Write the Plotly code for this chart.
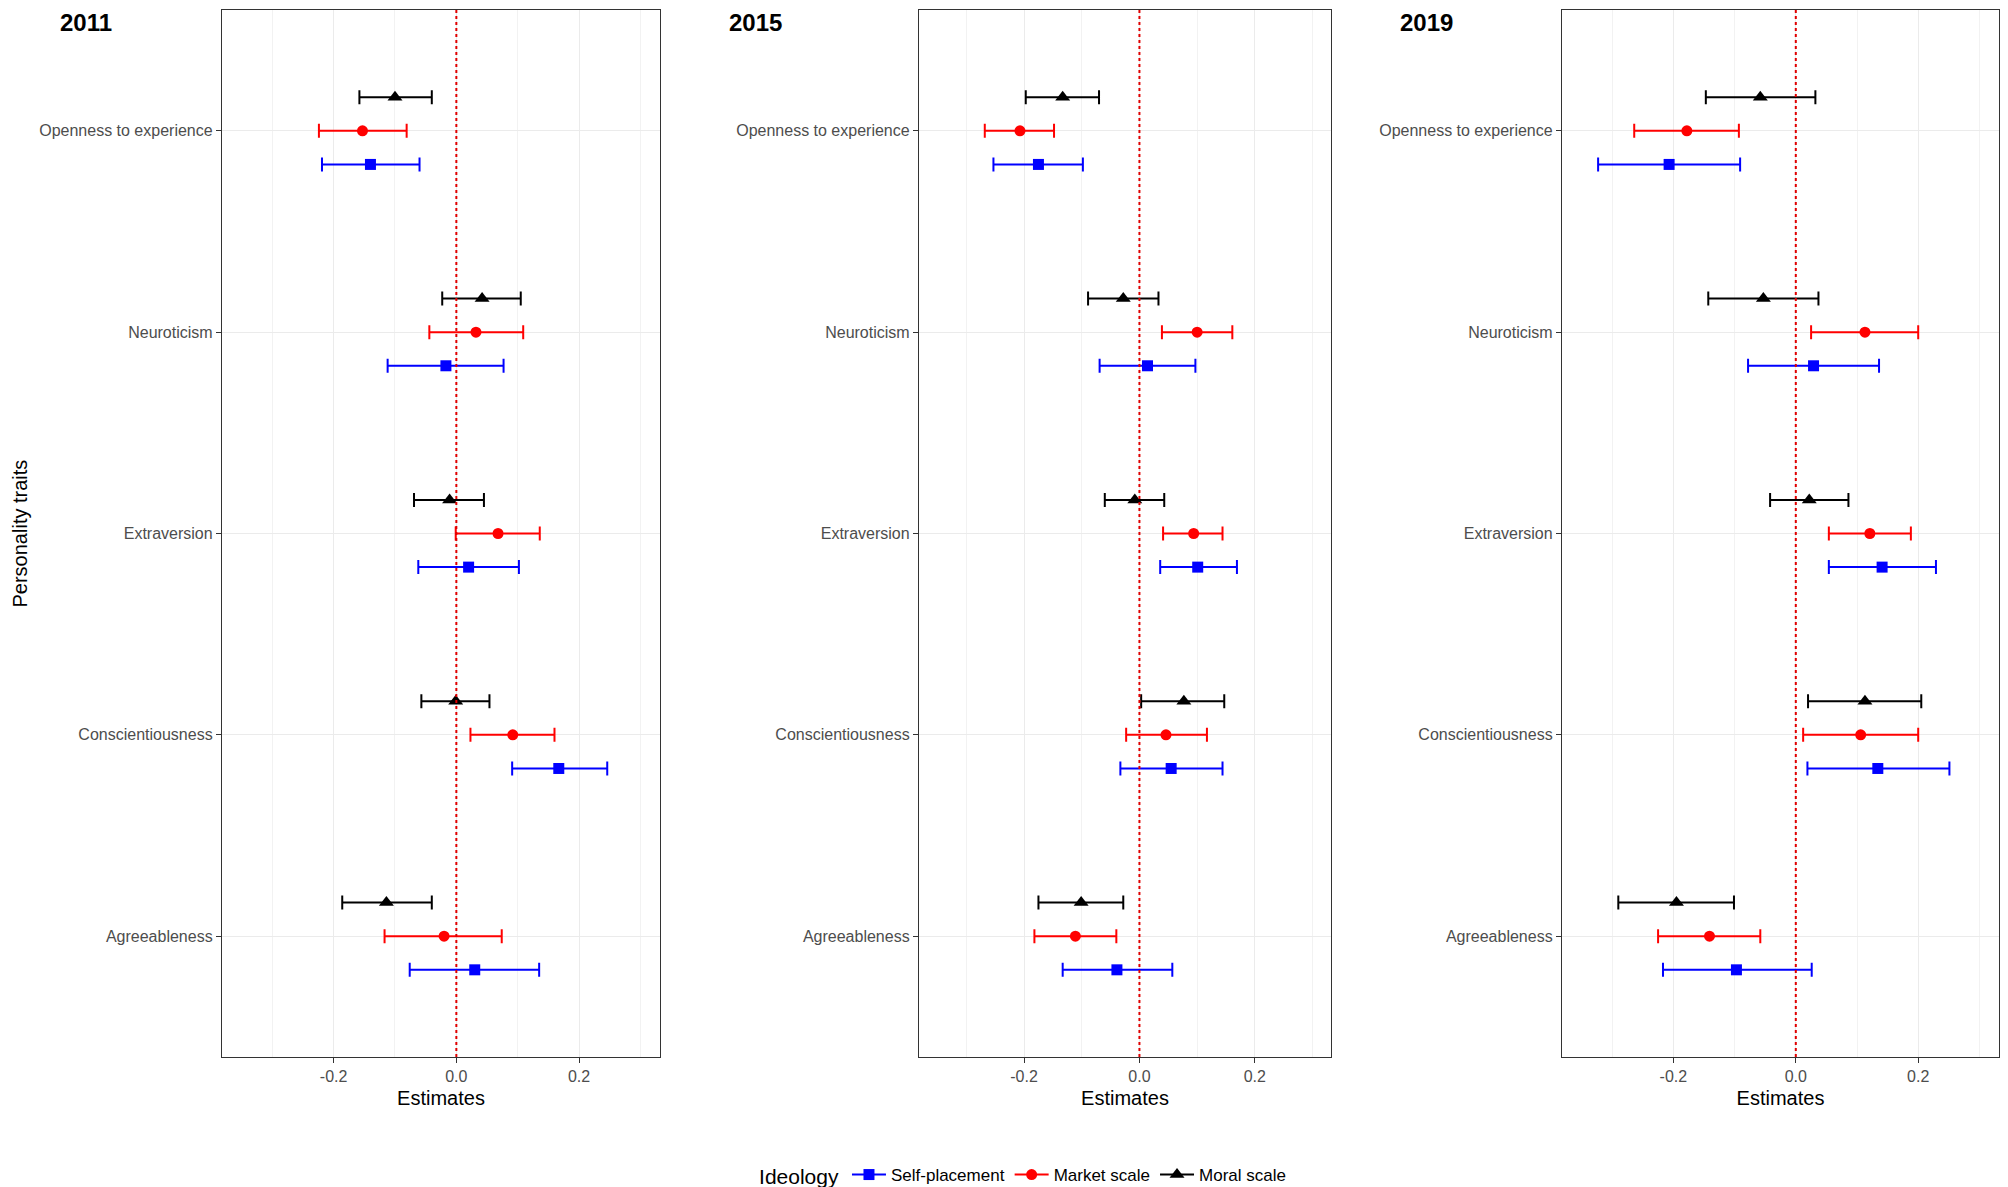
import plotly.graph_objects as go

# ---------------- data ----------------
traits = ["Openness to experience", "Neuroticism", "Extraversion",
          "Conscientiousness", "Agreeableness"]
trait_pos = [5, 4, 3, 2, 1]
years = ["2011", "2015", "2019"]
x_ticks = [-0.2, 0.0, 0.2]
x_tick_labels = ["-0.2", "0.0", "0.2"]

# 2011
self_est_2011 = [-0.140, -0.017, 0.020, 0.167, 0.030]
self_lo_2011 = [-0.219, -0.112, -0.062, 0.091, -0.076]
self_hi_2011 = [-0.060, 0.077, 0.102, 0.246, 0.135]
market_est_2011 = [-0.153, 0.032, 0.068, 0.092, -0.020]
market_lo_2011 = [-0.224, -0.044, -0.001, 0.023, -0.117]
market_hi_2011 = [-0.081, 0.109, 0.136, 0.160, 0.074]
moral_est_2011 = [-0.100, 0.042, -0.011, -0.001, -0.114]
moral_lo_2011 = [-0.158, -0.023, -0.069, -0.057, -0.186]
moral_hi_2011 = [-0.040, 0.105, 0.045, 0.054, -0.040]

# 2015
self_est_2015 = [-0.175, 0.014, 0.101, 0.055, -0.039]
self_lo_2015 = [-0.253, -0.069, 0.036, -0.033, -0.133]
self_hi_2015 = [-0.098, 0.097, 0.169, 0.144, 0.057]
market_est_2015 = [-0.207, 0.100, 0.094, 0.046, -0.111]
market_lo_2015 = [-0.268, 0.039, 0.041, -0.023, -0.182]
market_hi_2015 = [-0.148, 0.161, 0.144, 0.117, -0.040]
moral_est_2015 = [-0.133, -0.028, -0.008, 0.077, -0.101]
moral_lo_2015 = [-0.197, -0.089, -0.060, 0.003, -0.175]
moral_hi_2015 = [-0.070, 0.033, 0.043, 0.147, -0.028]

# 2019
self_est_2019 = [-0.207, 0.029, 0.141, 0.134, -0.097]
self_lo_2019 = [-0.323, -0.078, 0.054, 0.019, -0.217]
self_hi_2019 = [-0.091, 0.136, 0.229, 0.251, 0.026]
market_est_2019 = [-0.178, 0.113, 0.121, 0.106, -0.141]
market_lo_2019 = [-0.264, 0.025, 0.054, 0.012, -0.225]
market_hi_2019 = [-0.093, 0.200, 0.188, 0.200, -0.058]
moral_est_2019 = [-0.058, -0.053, 0.022, 0.113, -0.195]
moral_lo_2019 = [-0.147, -0.143, -0.042, 0.020, -0.290]
moral_hi_2019 = [0.032, 0.037, 0.086, 0.205, -0.101]

series_names = ["Self-placement", "Market scale", "Moral scale"]

panel_data = {
    "2011": [(self_est_2011, self_lo_2011, self_hi_2011),
             (market_est_2011, market_lo_2011, market_hi_2011),
             (moral_est_2011, moral_lo_2011, moral_hi_2011)],
    "2015": [(self_est_2015, self_lo_2015, self_hi_2015),
             (market_est_2015, market_lo_2015, market_hi_2015),
             (moral_est_2015, moral_lo_2015, moral_hi_2015)],
    "2019": [(self_est_2019, self_lo_2019, self_hi_2019),
             (market_est_2019, market_lo_2019, market_hi_2019),
             (moral_est_2019, moral_lo_2019, moral_hi_2019)],
}

# ---------------- styles ----------------
W, H = 2008, 1187          # reference pixel space
FIG_H = 1195               # rendered height (photo is squeezed back to 1187)
colors = ["#0000FF", "#FF0000", "#000000"]
symbols = ["square", "circle", "triangle-up"]
msizes = [11, 11, 13]
dodge = [-0.167, 0.0, 0.167]
FONT = "Liberation Sans, Arial, Helvetica, sans-serif"

x_domains = [(222 / W, 660 / W), (919 / W, 1331 / W), (1562 / W, 1999 / W)]
y_domain = (1 - 1057 / H, 1 - 10 / H)
title_x_px = [58, 727, 1398]
x_range = [-0.382, 0.332]
y_range = [0.4, 5.6]

fig = go.Figure()

for p, yr in enumerate(years):
    xa = "x" if p == 0 else f"x{p+1}"
    ya = "y" if p == 0 else f"y{p+1}"
    for s in [2, 1, 0]:
        est, lo, hi = panel_data[yr][s]
        fig.add_trace(go.Scatter(
            x=est,
            y=[tp + dodge[s] for tp in trait_pos],
            mode="markers",
            marker=dict(color=colors[s], symbol=symbols[s], size=msizes[s],
                        line=dict(width=0)),
            error_x=dict(type="data", symmetric=False,
                         array=[h - e for h, e in zip(hi, est)],
                         arrayminus=[e - l for e, l in zip(est, lo)],
                         color=colors[s], thickness=2, width=7),
            xaxis=xa, yaxis=ya, showlegend=False, name=series_names[s],
        ))
    # zero reference line
    fig.add_shape(type="line", xref=xa, yref=f"{ya} domain",
                  x0=0, x1=0, y0=0, y1=1,
                  line=dict(color="#E00000", width=2, dash="dot"), layer="above")
    # panel tag
    fig.add_annotation(text=f"<b>{yr}</b>", xref="paper", yref="paper",
                       x=title_x_px[p] / W, y=1 - 22 / H, xanchor="left",
                       yanchor="middle", showarrow=False,
                       font=dict(family=FONT, size=24, color="black"))

# legend entries
for s in range(3):
    fig.add_trace(go.Scatter(
        x=[None], y=[None], mode="lines+markers", name=series_names[s],
        marker=dict(color=colors[s], symbol=symbols[s], size=msizes[s]),
        line=dict(color=colors[s], width=2), showlegend=True,
    ))

axis_common = dict(
    showline=True, linecolor="#333333", linewidth=1.3, mirror=True,
    ticks="outside", ticklen=5, tickcolor="#333333", tickwidth=1.3,
    tickfont=dict(family=FONT, size=16, color="#4D4D4D"),
    showgrid=True, gridcolor="#EBEBEB", gridwidth=1.3, zeroline=False,
)

layout = dict(
    width=W, height=FIG_H,
    margin=dict(l=0, r=0, t=0, b=0),
    paper_bgcolor="white", plot_bgcolor="white",
    font=dict(family=FONT, color="black"),
    legend=dict(orientation="h", x=0.51, xanchor="center", y=1 - 1176 / H,
                yanchor="middle", title=dict(text="Ideology",
                                             font=dict(size=21, family=FONT)),
                font=dict(size=17, family=FONT, color="black"),
                itemwidth=34, bgcolor="rgba(0,0,0,0)"),
)

for p in range(3):
    xkey = "xaxis" if p == 0 else f"xaxis{p+1}"
    ykey = "yaxis" if p == 0 else f"yaxis{p+1}"
    ya = "y" if p == 0 else f"y{p+1}"
    xa = "x" if p == 0 else f"x{p+1}"
    layout[xkey] = dict(
        axis_common, domain=list(x_domains[p]), anchor=ya, range=x_range,
        tickvals=x_ticks, ticktext=x_tick_labels,
        minor=dict(tickvals=[-0.3, -0.1, 0.1, 0.3], showgrid=True,
                   gridcolor="#F2F2F2", gridwidth=0.8, ticks=""),
        title=dict(text="Estimates", font=dict(family=FONT, size=20, color="black"),
                   standoff=6),
    )
    layout[ykey] = dict(
        axis_common, domain=list(y_domain), anchor=xa, range=y_range,
        tickvals=trait_pos, ticktext=traits,
    )

fig.update_layout(**layout)

fig.add_annotation(text="Personality traits", xref="paper", yref="paper",
                   x=19 / W, y=(y_domain[0] + y_domain[1]) / 2, textangle=-90,
                   xanchor="center", yanchor="middle", showarrow=False,
                   font=dict(family=FONT, size=20, color="black"))

fig.write_html(
    "out.html",
    config={"displayModeBar": False},
    post_script="document.body.style.margin='0';document.body.style.overflow='hidden';",
)
